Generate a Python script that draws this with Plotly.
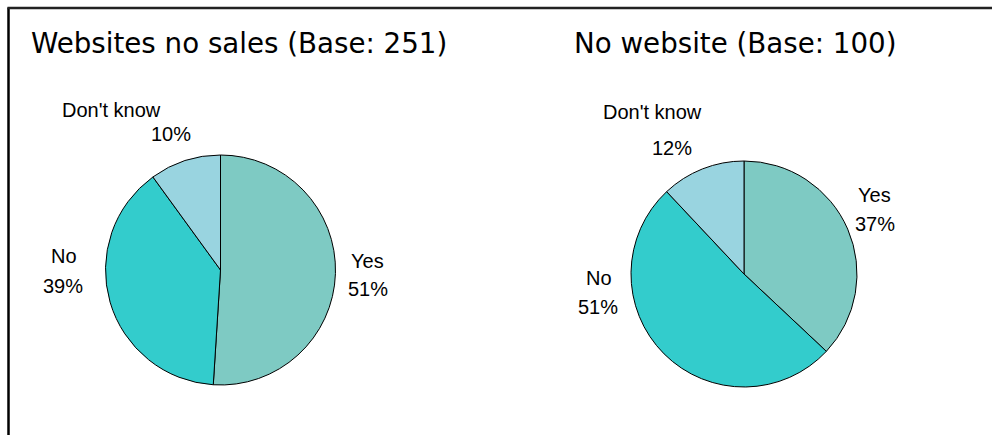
import plotly.graph_objects as go

# Survey answers for the two groups
categories = ["Yes", "No", "Don't know"]
websites_no_sales = [51, 39, 10]
no_website = [37, 51, 12]
titles = ["Websites no sales (Base: 251)", "No website (Base: 100)"]
colors = ["#7ECAC3", "#33CCCC", "#99D4E0"]

W, H = 992, 435


def px(x):
    return x / W


def py(y):
    return 1 - y / H


def pie_domain(cx, cy, r):
    return dict(x=[px(cx - r), px(cx + r)], y=[py(cy + r), py(cy - r)])


fig = go.Figure()

pies = [
    (websites_no_sales, (220.5, 270, 115)),
    (no_website, (744, 274, 113)),
]
for values, (cx, cy, r) in pies:
    fig.add_trace(go.Pie(
        labels=categories,
        values=values,
        sort=False,
        direction="clockwise",
        rotation=0,
        textinfo="none",
        hoverinfo="label+percent",
        marker=dict(colors=colors, line=dict(color="#000000", width=1)),
        domain=pie_domain(cx, cy, r),
        showlegend=False,
    ))

annotations = []

# Chart titles (baseline ~53px)
title_font = dict(family="DejaVu Sans", size=27.7, color="#000000")
for text, x0 in zip(titles, [29, 572]):
    annotations.append(dict(
        text=text, x=px(x0), y=py(53 - 9.6), xref="paper", yref="paper",
        xanchor="left", yanchor="middle", showarrow=False, font=title_font,
    ))

# Slice labels: (center x of name, baseline of name, center x of pct, baseline of pct)
label_pos = [
    {
        "Yes": (367.5, 268, 367.5, 296),
        "No": (64, 263, 62.5, 293),
        "Don't know": (111, 117, 171, 141),
    },
    {
        "Yes": (874, 202, 874.5, 231),
        "No": (599, 285, 598, 314),
        "Don't know": (652, 119, 672, 155),
    },
]
label_font = dict(family="Liberation Sans, Arial", size=20, color="#000000")
for values, pos in zip([websites_no_sales, no_website], label_pos):
    for cat, v in zip(categories, values):
        lx, ly, vx, vy = pos[cat]
        for text, x, y in [(cat, lx, ly), (f"{v}%", vx, vy)]:
            annotations.append(dict(
                text=text, x=px(x), y=py(y - 7), xref="paper", yref="paper",
                xanchor="center", yanchor="middle", showarrow=False,
                font=label_font,
            ))

# Frame: left and top rules
shapes = [
    dict(type="line", xref="paper", yref="paper",
         x0=px(8.5), x1=px(8.5), y0=0, y1=py(7.5),
         line=dict(color="#000000", width=2.5)),
    dict(type="line", xref="paper", yref="paper",
         x0=px(7.5), x1=1, y0=py(8), y1=py(8),
         line=dict(color="#222222", width=2.5)),
]

fig.update_layout(
    width=W, height=H,
    margin=dict(l=0, r=0, t=0, b=0),
    paper_bgcolor="#FFFFFF",
    plot_bgcolor="#FFFFFF",
    annotations=annotations,
    shapes=shapes,
)

fig.write_html("out.html", config={"displayModeBar": False})
